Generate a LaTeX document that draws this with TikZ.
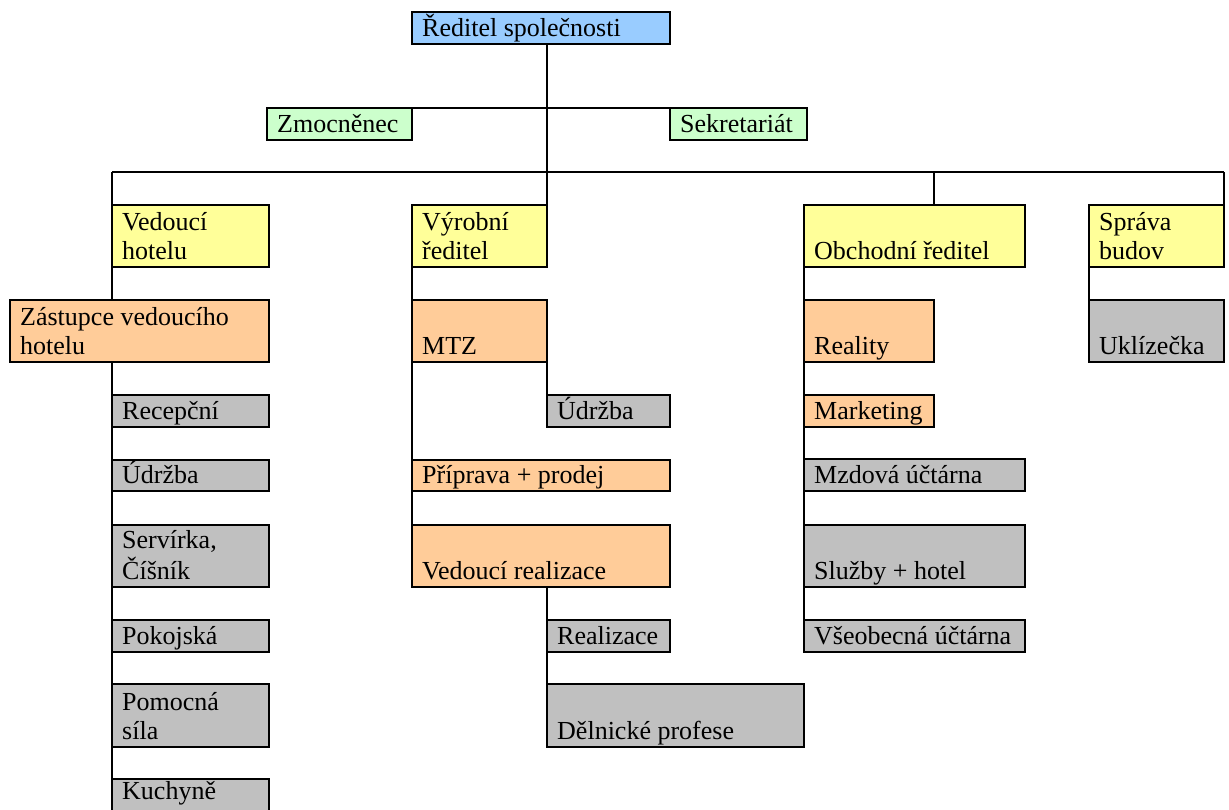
\documentclass[tikz,border=0pt]{standalone}
\usepackage{fontspec}
\setmainfont{Liberation Serif}
\definecolor{cblue}{HTML}{99CCFF}
\definecolor{cgreen}{HTML}{CCFFCC}
\definecolor{cyellow}{HTML}{FFFF99}
\definecolor{corange}{HTML}{FFCC99}
\definecolor{cgrey}{HTML}{C0C0C0}
\tikzset{
  orgbox/.style={draw=black, line width=1.8pt, inner sep=0pt, outer sep=0pt, anchor=north west},
  conn/.style={draw=black, line width=1.8pt},
  boxtxt/.style={anchor=base west, inner sep=0pt, font=\fontsize{26}{29.5}\selectfont, text=black}
}
\newcommand{\orgnode}[7]{%
  \node[orgbox, fill=#6, minimum width={(#4-#2)*1pt}, minimum height={(#5-#3)*1pt}] (#1) at (#2,-#3) {};
  \node[boxtxt] (#1t) at ([xshift=10pt,yshift=7.5pt]#1.south west) {#7};
}
\newcommand{\twol}[2]{\begin{tabular}[b]{@{}l@{}}#1\\#2\end{tabular}}
\begin{document}
\begin{tikzpicture}[x=1pt,y=1pt]
\useasboundingbox (0,0) rectangle (1229,-809);
\clip (0,0) rectangle (1229,-809);
\fill[white] (0,0) rectangle (1229,-809);
% boxes
\orgnode{top}{412}{12}{670}{44}{cblue}{Ředitel společnosti}
\orgnode{zmoc}{267}{108}{412}{140}{cgreen}{Zmocněnec}
\orgnode{sekr}{670}{108}{807}{140}{cgreen}{Sekretariát}
\orgnode{vh}{112}{205}{269}{267}{cyellow}{\twol{Vedoucí}{hotelu}}
\orgnode{vr}{412}{205}{547}{267}{cyellow}{\twol{Výrobní}{ředitel}}
\orgnode{ob}{804}{205}{1025}{267}{cyellow}{Obchodní ředitel}
\orgnode{sb}{1089}{205}{1224}{267}{cyellow}{\twol{Správa}{budov}}
\orgnode{zas}{10}{300}{269}{362}{corange}{\twol{Zástupce vedoucího}{hotelu}}
\orgnode{mtz}{412}{300}{547}{362}{corange}{MTZ}
\orgnode{real}{804}{300}{934}{362}{corange}{Reality}
\orgnode{ukl}{1089}{300}{1224}{362}{cgrey}{Uklízečka}
\orgnode{rec}{112}{395}{269}{427}{cgrey}{Recepční}
\orgnode{udrb}{547}{395}{670}{427}{cgrey}{Údržba}
\orgnode{mkt}{804}{395}{934}{427}{corange}{Marketing}
\orgnode{udra}{112}{460}{269}{491}{cgrey}{Údržba}
\orgnode{prip}{412}{460}{670}{491}{corange}{Příprava + prodej}
\orgnode{mzd}{804}{459}{1025}{491}{cgrey}{Mzdová účtárna}
\orgnode{serv}{112}{525}{269}{587}{cgrey}{\twol{Servírka,}{Číšník}}
\orgnode{ved}{412}{525}{670}{587}{corange}{Vedoucí realizace}
\orgnode{sluz}{804}{525}{1025}{587}{cgrey}{Služby + hotel}
\orgnode{pok}{112}{620}{269}{652}{cgrey}{Pokojská}
\orgnode{reali}{547}{620}{670}{652}{cgrey}{Realizace}
\orgnode{vseo}{804}{620}{1025}{652}{cgrey}{Všeobecná účtárna}
\orgnode{pom}{112}{684}{269}{747}{cgrey}{\twol{Pomocná}{síla}}
\orgnode{deln}{547}{684}{804}{747}{cgrey}{Dělnické profese}
\node[orgbox, fill=cgrey, minimum width=157pt, minimum height=62pt] (kuch) at (112,-779) {};
\node[boxtxt] (kucht) at (122,-799) {Kuchyně};
% connectors
\coordinate (hl) at (112,-172);
\coordinate (hr) at (1224,-172);
\draw[conn] (top.south -| vr.north east) -- (vr.north east);
\draw[conn] (zmoc.north east) -- (sekr.north west);
\draw[conn] (hl) -- (hr);
\draw[conn] (hl) -- (vh.north west);
\draw[conn] (hr) -- (sb.north east);
\draw[conn] (hl -| real.north east) -- (ob.north -| real.north east);
\draw[conn] (vh.south west) -- (zas.north -| vh.south west);
\draw[conn] (zas.south -| vh.south west) -- (kuch.north west);
\draw[conn] (vr.south west) -- (ved.north west);
\draw[conn] (mtz.south east) -- (udrb.north west);
\draw[conn] (ved.south -| reali.north west) -- (deln.north west);
\draw[conn] (ob.south west) -- (vseo.north west);
\draw[conn] (sb.south west) -- (ukl.north west);
\end{tikzpicture}
\end{document}
